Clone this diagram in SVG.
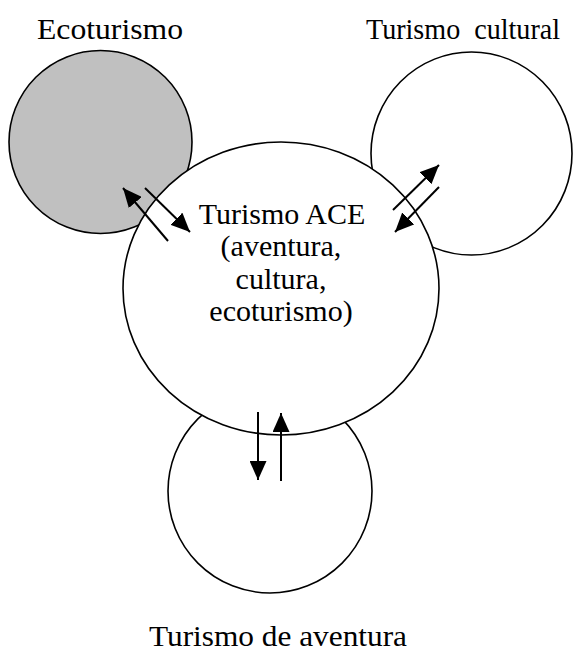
<svg xmlns="http://www.w3.org/2000/svg" width="573" height="658" viewBox="0 0 573 658">
  <style>
    .ring { fill: #ffffff; stroke: #000000; stroke-width: 1.6; }
    .ring.eco { fill: #c0c0c0; }
    .link { stroke: #000000; stroke-width: 2; fill: none; marker-end: url(#head); }
    .label { font-family: "Liberation Serif", "Times New Roman", serif; font-size: 30px; fill: #000000; }
    .center { text-anchor: middle; }
  </style>
  <defs>
    <marker id="head" markerUnits="userSpaceOnUse" markerWidth="19" markerHeight="17" refX="19" refY="8.5" orient="auto">
      <path d="M0,0 L19,8.5 L0,17 Z" fill="#000000"/>
    </marker>
  </defs>

  <!-- outer circles, drawn first so the central one covers their overlaps -->
  <g id="ecoturismo">
    <circle class="ring eco" cx="100.5" cy="142" r="91.5"/>
    <text class="label" x="37" y="39" textLength="146" lengthAdjust="spacingAndGlyphs">Ecoturismo</text>
  </g>
  <g id="turismo-cultural">
    <ellipse class="ring" cx="471.5" cy="153.5" rx="100.5" ry="101.5"/>
    <text class="label" x="366" y="39" textLength="194" lengthAdjust="spacingAndGlyphs" xml:space="preserve">Turismo  cultural</text>
  </g>
  <g id="turismo-aventura">
    <circle class="ring" cx="270" cy="491" r="102"/>
    <text class="label center" x="278" y="646" textLength="258" lengthAdjust="spacingAndGlyphs">Turismo de aventura</text>
  </g>

  <!-- central node -->
  <g id="turismo-ace">
    <ellipse class="ring" cx="281" cy="288.5" rx="158" ry="146.5"/>
    <text class="label center" x="282" y="224">Turismo ACE</text>
    <text class="label center" x="281" y="256">(aventura,</text>
    <text class="label center" x="281" y="289">cultura,</text>
    <text class="label center" x="281" y="321">ecoturismo)</text>
  </g>

  <!-- two-way exchanges between the central node and each outer node -->
  <g id="connectors">
    <line class="link" x1="168" y1="241" x2="123" y2="188"/>
    <line class="link" x1="145" y1="188" x2="190" y2="232"/>
    <line class="link" x1="393" y1="210" x2="439" y2="165"/>
    <line class="link" x1="439" y1="187" x2="395" y2="232"/>
    <line class="link" x1="258" y1="412" x2="258" y2="480"/>
    <line class="link" x1="281" y1="481" x2="281" y2="413"/>
  </g>
</svg>
